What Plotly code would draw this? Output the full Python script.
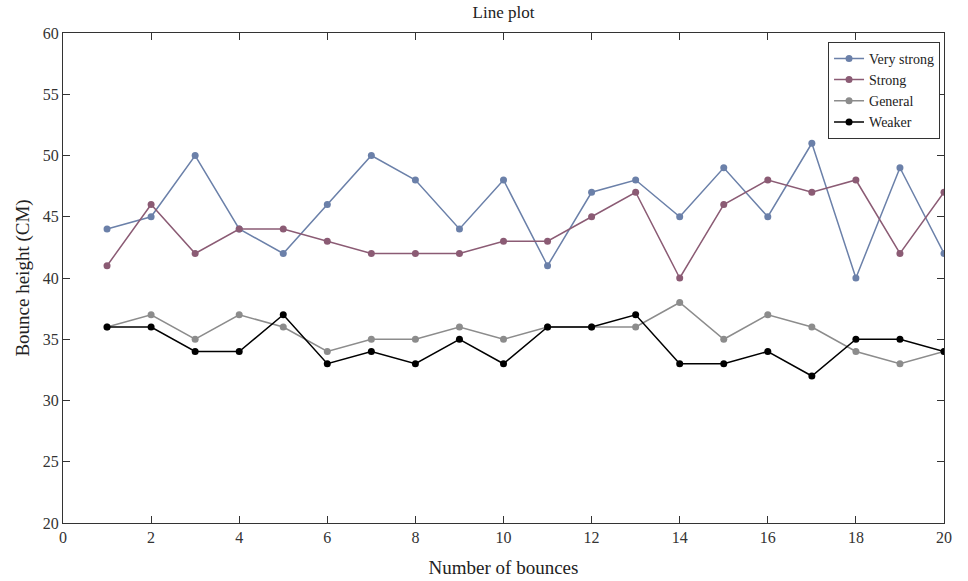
import plotly.graph_objects as go

bounces = list(range(1, 21))
very_strong = [44, 45, 50, 44, 42, 46, 50, 48, 44, 48, 41, 47, 48, 45, 49, 45, 51, 40, 49, 42]
strong = [41, 46, 42, 44, 44, 43, 42, 42, 42, 43, 43, 45, 47, 40, 46, 48, 47, 48, 42, 47]
general = [36, 37, 35, 37, 36, 34, 35, 35, 36, 35, 36, 36, 36, 38, 35, 37, 36, 34, 33, 34]
weaker = [36, 36, 34, 34, 37, 33, 34, 33, 35, 33, 36, 36, 37, 33, 33, 34, 32, 35, 35, 34]

series = [
    ("Very strong", very_strong, "#6b80a9"),
    ("Strong", strong, "#8b5b74"),
    ("General", general, "#8c8c8c"),
    ("Weaker", weaker, "#000000"),
]

fig = go.Figure()
for name, vals, col in series:
    fig.add_trace(go.Scatter(
        x=bounces, y=vals, name=name, mode="lines+markers",
        line=dict(color=col, width=1.5),
        marker=dict(color=col, size=7),
    ))

font = "Liberation Serif, Times New Roman, serif"
axis_common = dict(
    showline=True, linecolor="#333", linewidth=1, mirror="ticks",
    ticks="inside", ticklen=7, tickcolor="#333", showgrid=False, zeroline=False,
    tickfont=dict(family=font, size=16, color="#333"), automargin=False,
)
fig.update_layout(
    width=968, height=581,
    margin=dict(l=63, r=24, t=33, b=58, autoexpand=False),
    paper_bgcolor="white", plot_bgcolor="white",
    font=dict(family=font, color="#222"),
    title=dict(text="Line plot", x=0.5, xanchor="center", xref="paper", y=0.979, yanchor="middle",
               font=dict(family=font, size=17, color="#222")),
    xaxis=dict(range=[0, 20], dtick=2, title=dict(text="Number of bounces", font=dict(family=font, size=19), standoff=15), **axis_common),
    yaxis=dict(range=[20, 60], dtick=5, title=dict(text="Bounce height (CM)", font=dict(family=font, size=19), standoff=8), **axis_common),
    legend=dict(x=0.9955, y=0.982, xanchor="right", yanchor="top",
                bordercolor="#333", borderwidth=1, bgcolor="white",
                font=dict(family=font, size=14, color="#222"),
                tracegroupgap=0, itemwidth=30),
    showlegend=True,
)

fig.write_html("out.html", config={"displayModeBar": False},
               post_script="document.body.style.margin='0';document.body.style.overflow='hidden';")
